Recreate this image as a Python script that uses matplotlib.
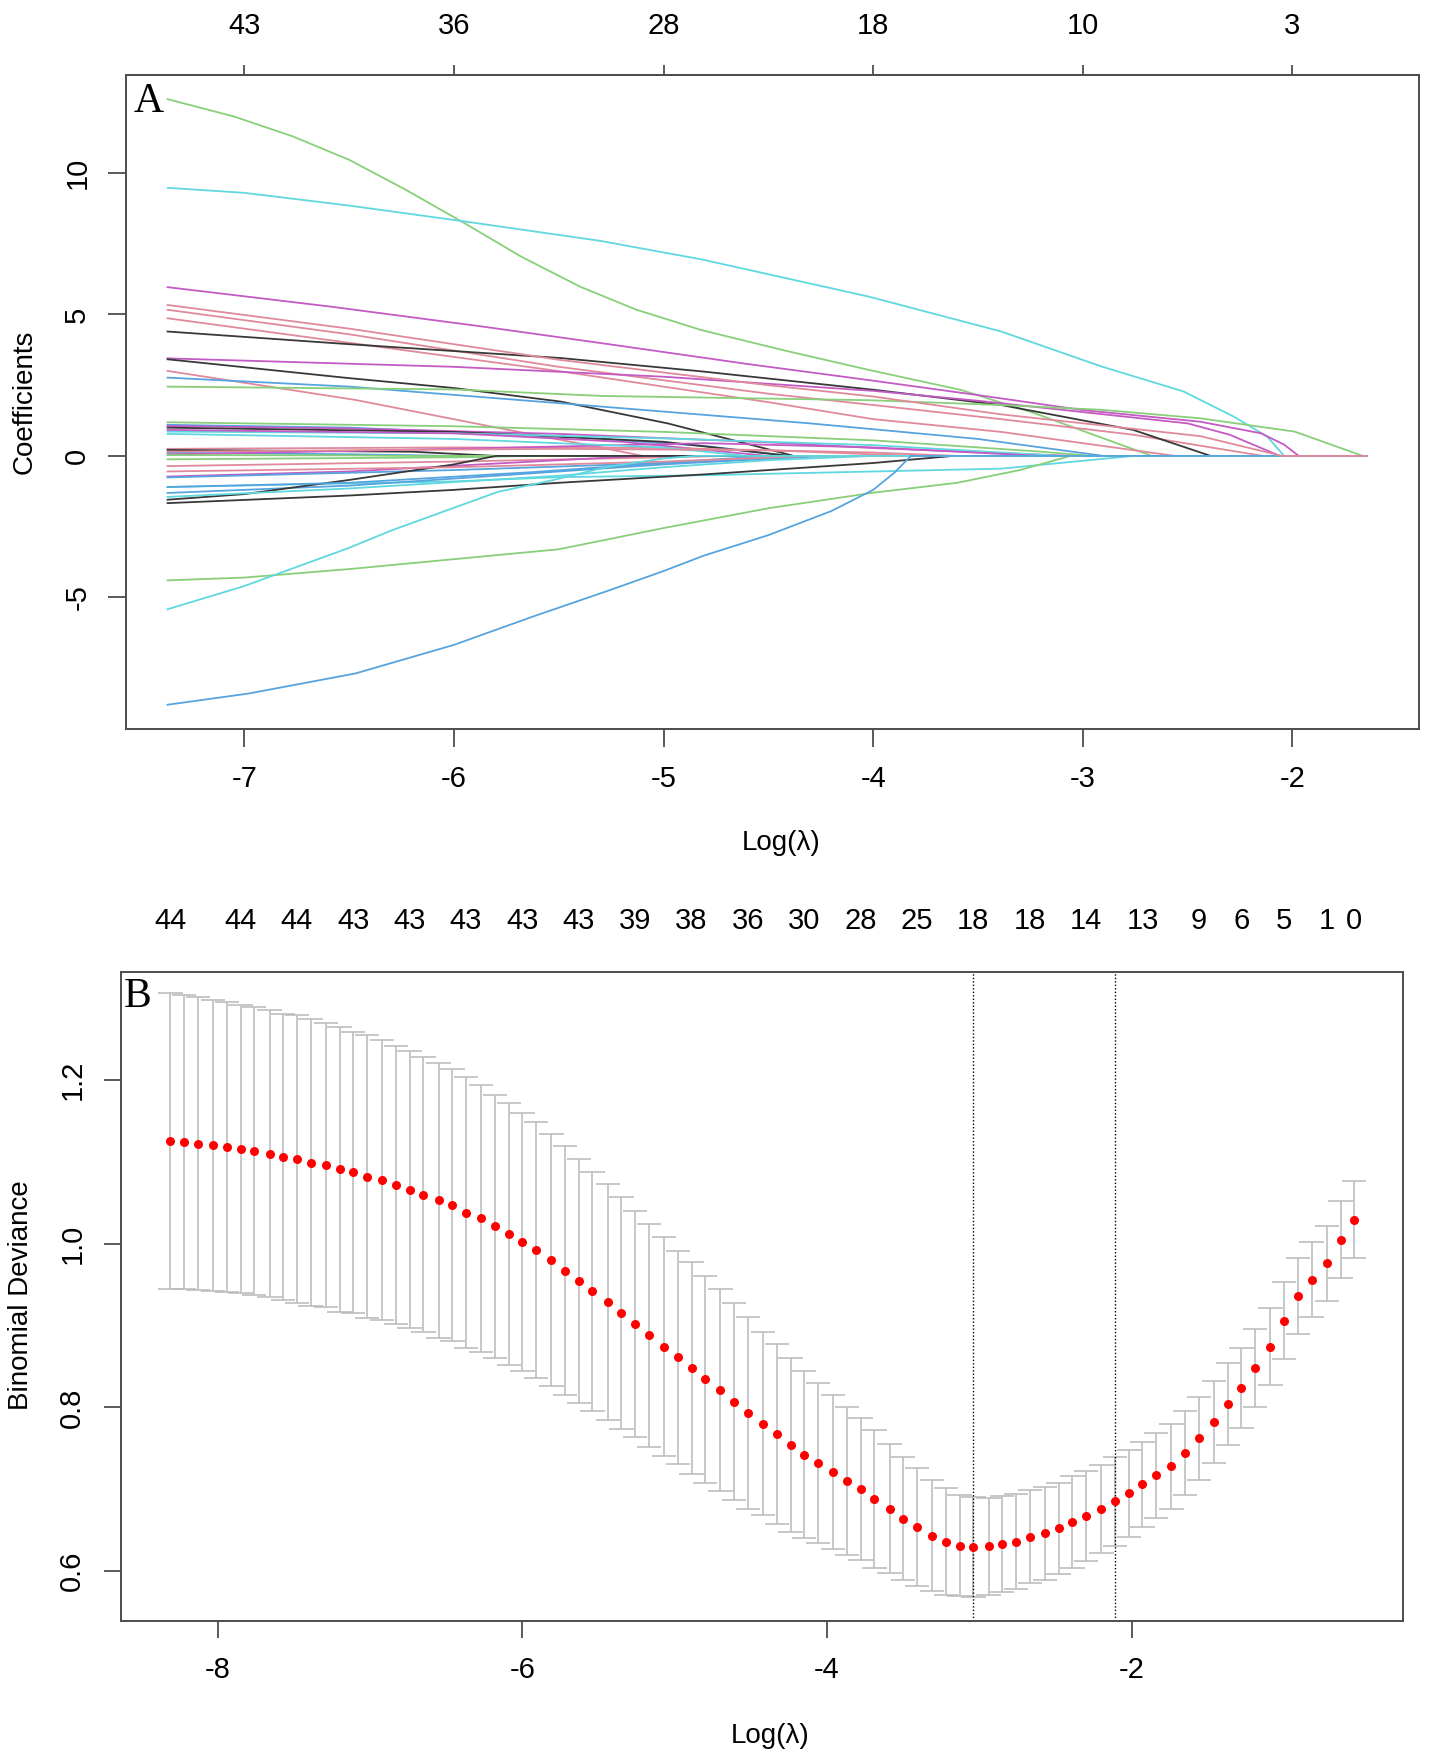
import matplotlib
matplotlib.use("Agg")
import matplotlib.pyplot as plt
import matplotlib.transforms as mtransforms

plt.rcParams['font.family'] = ['Liberation Sans', 'DejaVu Sans']
plt.rcParams['axes.unicode_minus'] = False

# ---------------- panel A: lasso coefficient paths ----------------
# knots (log lambda, coefficient); every path sits on 0 after its last knot
path_green_big = [(-7.37, 12.62), (-7.05, 12.0), (-6.77, 11.3), (-6.5, 10.47), (-6.23, 9.41),
                  (-5.95, 8.23), (-5.68, 7.05), (-5.4, 5.99), (-5.13, 5.17), (-4.82, 4.45),
                  (-4.43, 3.74), (-4.02, 3.04), (-3.58, 2.33), (-3.23, 1.51), (-2.95, 0.75),
                  (-2.67, 0.0)]
path_cyan_top = [(-7.37, 9.48), (-7.0, 9.3), (-6.5, 8.85), (-5.95, 8.29), (-5.3, 7.6),
                 (-4.82, 6.95), (-4.02, 5.63), (-3.39, 4.40), (-2.91, 3.16), (-2.52, 2.28),
                 (-2.28, 1.39), (-2.12, 0.68), (-2.04, 0.0)]
path_purple_top = [(-7.37, 5.97), (-6.59, 5.28), (-5.86, 4.57), (-5.29, 3.98), (-4.6, 3.25),
                   (-4.02, 2.68), (-3.5, 2.15), (-3.0, 1.62), (-2.44, 1.21), (-2.15, 0.8),
                   (-2.04, 0.4), (-1.97, 0.0)]
path_pink_a = [(-7.37, 5.34), (-6.5, 4.5), (-5.5, 3.4), (-4.5, 2.5), (-4.0, 2.1), (-3.39, 1.47),
               (-2.44, 0.7), (-2.05, 0.0)]
path_pink_b = [(-7.37, 5.17), (-6.5, 4.3), (-5.5, 3.15), (-4.5, 2.2), (-4.0, 1.8), (-3.39, 1.30),
               (-2.76, 0.75), (-2.14, 0.0)]
path_pink_c = [(-7.37, 4.87), (-6.5, 4.0), (-5.5, 3.0), (-4.5, 1.9), (-4.0, 1.3), (-3.39, 0.85),
               (-2.56, 0.0)]
path_black_up = [(-7.37, 4.40), (-6.5, 3.95), (-5.49, 3.46), (-4.82, 2.99), (-4.0, 2.34),
                 (-3.39, 1.80), (-2.76, 0.92), (-2.39, 0.0)]
path_purple_2 = [(-7.37, 3.45), (-6.0, 3.15), (-5.0, 2.8), (-4.0, 2.3), (-3.5, 1.95),
                 (-3.0, 1.55), (-2.5, 1.15), (-2.3, 0.75), (-2.06, 0.0)]
path_black_low = [(-7.37, 3.42), (-6.5, 2.75), (-6.0, 2.4), (-5.49, 1.92), (-4.98, 1.15),
                  (-4.43, 0.1), (-4.38, 0.0)]
path_pink_steep = [(-7.37, 3.01), (-6.47, 1.98), (-5.74, 0.92), (-5.3, 0.3), (-5.1, 0.0)]
path_blue_steel = [(-7.37, 2.77), (-6.5, 2.45), (-5.49, 1.86), (-4.3, 1.15), (-3.5, 0.6),
                   (-3.1, 0.2), (-2.9, 0.0)]
path_green_long = [(-7.37, 2.45), (-6.0, 2.35), (-5.29, 2.12), (-4.02, 1.97), (-3.39, 1.80),
                   (-2.91, 1.63), (-2.44, 1.33), (-1.99, 0.86), (-1.664, 0.0)]
path_pos1 = [(-7.37, 1.19), (-6.0, 1.05), (-5.0, 0.85), (-4.0, 0.55), (-3.2, 0.15), (-2.95, 0.0)]
path_pos2 = [(-7.37, 1.10), (-6.5, 1.0), (-5.5, 0.7), (-4.8, 0.35), (-4.4, 0.0)]
path_pos3 = [(-7.37, 1.06), (-6.5, 0.97), (-5.5, 0.78), (-4.5, 0.48), (-4.0, 0.28), (-3.05, 0.0)]
path_pos4 = [(-7.37, 1.0), (-6.0, 0.85), (-5.0, 0.5), (-4.4, 0.0)]
path_pos5 = [(-7.37, 0.86), (-6.0, 0.8), (-5.0, 0.62), (-4.0, 0.38), (-3.1, 0.0)]
path_pos6 = [(-7.37, 0.92), (-6.0, 0.8), (-5.2, 0.5), (-4.5, 0.0)]
path_pos7 = [(-7.37, 0.25), (-6.0, 0.3), (-5.0, 0.28), (-4.0, 0.12), (-3.6, 0.0)]
path_pos8 = [(-7.37, 0.21), (-6.2, 0.15), (-5.8, 0.0)]
path_pos9 = [(-7.37, 0.11), (-6.5, 0.06), (-6.0, 0.0)]
path_pos10 = [(-7.37, 0.05), (-6.0, 0.25), (-4.8, 0.45), (-4.0, 0.3), (-3.2, 0.0)]
path_pos11 = [(-7.37, 0.03), (-6.5, 0.02), (-6.2, 0.0)]
path_pos12 = [(-7.37, 0.78), (-6.0, 0.6), (-5.0, 0.3), (-4.6, 0.0)]
path_pos13 = [(-7.37, 0.15), (-6.5, 0.2), (-5.5, 0.25), (-4.5, 0.2), (-3.8, 0.0)]
path_neg1 = [(-7.37, -0.12), (-6.0, -0.05), (-5.6, 0.0)]
path_neg2 = [(-7.37, -0.36), (-6.0, -0.2), (-5.0, -0.05), (-4.7, 0.0)]
path_neg3 = [(-7.37, -0.73), (-6.5, -0.55), (-6.0, -0.35), (-5.5, -0.15), (-5.1, 0.0)]
path_neg4 = [(-7.37, -0.76), (-6.0, -0.5), (-5.0, -0.25), (-4.5, -0.1), (-4.2, 0.0)]
path_neg5 = [(-7.37, -1.10), (-6.0, -0.9), (-5.5, -0.75), (-4.8, -0.68), (-4.0, -0.55),
             (-3.39, -0.45), (-2.76, 0.0)]
path_neg6 = [(-7.37, -1.31), (-6.5, -1.05), (-6.0, -0.8), (-5.5, -0.55), (-5.0, -0.3),
             (-4.5, -0.1), (-4.3, 0.0)]
path_neg7 = [(-7.37, -1.55), (-7.0, -1.35), (-6.5, -0.85), (-6.0, -0.3), (-5.8, 0.0)]
path_neg8 = [(-7.37, -1.67), (-6.5, -1.4), (-6.0, -1.2), (-5.5, -0.95), (-4.8, -0.65),
             (-4.0, -0.25), (-3.62, 0.0)]
path_neg9 = [(-7.37, -1.1), (-6.5, -0.95), (-5.62, -0.57), (-4.81, -0.15), (-4.5, 0.0)]
path_neg10 = [(-7.37, -1.45), (-6.5, -1.15), (-5.5, -0.7), (-5.0, -0.4), (-4.5, -0.15), (-4.0, 0.0)]
path_neg11 = [(-7.37, -0.55), (-6.0, -0.4), (-5.0, -0.2), (-4.3, 0.0)]
path_green_low = [(-7.37, -4.4), (-7.0, -4.3), (-6.5, -4.0), (-6.0, -3.65), (-5.5, -3.3),
                  (-5.0, -2.55), (-4.5, -1.85), (-4.0, -1.3), (-3.6, -0.95), (-3.3, -0.5),
                  (-3.06, 0.0)]
path_cyan_cross = [(-7.37, -5.43), (-7.0, -4.6), (-6.5, -3.25), (-6.3, -2.64), (-5.79, -1.27),
                   (-5.53, -0.86), (-5.27, -0.39), (-5.0, -0.09), (-4.85, 0.0)]
path_blue_bottom = [(-7.37, -8.8), (-6.98, -8.40), (-6.47, -7.69), (-6.0, -6.68), (-5.62, -5.67),
                    (-5.27, -4.78), (-5.0, -4.07), (-4.81, -3.53), (-4.5, -2.8), (-4.2, -1.95),
                    (-4.0, -1.2), (-3.9, -0.6), (-3.82, 0.0)]

path_end = -1.64          # largest log(lambda) on the path
df_ticks = [-7, -6, -5, -4, -3, -2]
df_labels = ['43', '36', '28', '18', '10', '3']

# ---------------- panel B: cross-validated binomial deviance ----------------
log_lambda = [-8.31, -8.22, -8.13, -8.03, -7.94, -7.85, -7.76, -7.66, -7.57, -7.48,
              -7.39, -7.29, -7.20, -7.11, -7.02, -6.92, -6.83, -6.74, -6.65, -6.55,
              -6.46, -6.37, -6.27, -6.18, -6.09, -6.00, -5.91, -5.81, -5.72, -5.63,
              -5.54, -5.44, -5.35, -5.26, -5.17, -5.07, -4.98, -4.89, -4.80, -4.70,
              -4.61, -4.52, -4.42, -4.33, -4.24, -4.15, -4.06, -3.96, -3.87, -3.78,
              -3.69, -3.59, -3.50, -3.41, -3.31, -3.22, -3.13, -3.04, -2.94, -2.85,
              -2.76, -2.67, -2.57, -2.48, -2.39, -2.30, -2.20, -2.11, -2.02, -1.93,
              -1.84, -1.74, -1.65, -1.56, -1.46, -1.37, -1.28, -1.19, -1.09, -1.00,
              -0.91, -0.82, -0.72, -0.63, -0.54]
cv_mean = [1.125, 1.124, 1.122, 1.120, 1.118, 1.116, 1.113, 1.110, 1.106, 1.103,
           1.099, 1.096, 1.091, 1.087, 1.082, 1.078, 1.072, 1.066, 1.060, 1.053,
           1.047, 1.038, 1.031, 1.021, 1.012, 1.002, 0.992, 0.980, 0.967, 0.954,
           0.942, 0.929, 0.915, 0.902, 0.888, 0.874, 0.861, 0.848, 0.834, 0.821,
           0.807, 0.793, 0.780, 0.767, 0.754, 0.742, 0.732, 0.721, 0.710, 0.700,
           0.688, 0.676, 0.664, 0.654, 0.643, 0.636, 0.631, 0.629, 0.630, 0.633,
           0.636, 0.642, 0.646, 0.652, 0.660, 0.667, 0.676, 0.685, 0.695, 0.706,
           0.717, 0.728, 0.744, 0.762, 0.782, 0.804, 0.824, 0.848, 0.874, 0.906,
           0.936, 0.956, 0.976, 1.005, 1.029]
cv_sd = [0.181, 0.180, 0.179, 0.178, 0.177, 0.176, 0.176, 0.175, 0.175, 0.176,
         0.175, 0.174, 0.174, 0.172, 0.173, 0.171, 0.170, 0.169, 0.168, 0.168,
         0.166, 0.165, 0.163, 0.161, 0.160, 0.158, 0.156, 0.154, 0.152, 0.149,
         0.146, 0.144, 0.142, 0.138, 0.136, 0.134, 0.130, 0.129, 0.126, 0.123,
         0.120, 0.117, 0.112, 0.110, 0.106, 0.102, 0.098, 0.094, 0.090, 0.087,
         0.084, 0.079, 0.075, 0.072, 0.068, 0.065, 0.062, 0.061, 0.059, 0.059,
         0.058, 0.057, 0.057, 0.056, 0.056, 0.055, 0.054, 0.054, 0.053, 0.052,
         0.052, 0.052, 0.051, 0.051, 0.050, 0.050, 0.049, 0.048, 0.047, 0.047,
         0.046, 0.046, 0.046, 0.047, 0.047]
idx_min = 57
idx_1se = 67
nz_index = [0, 5, 9, 13, 17, 21, 25, 29, 33, 37, 41, 45, 49, 53, 57, 61, 65, 69, 73, 76, 79, 82, 84]
nz_labels = ['44', '44', '44', '43', '43', '43', '43', '43', '39', '38', '36', '30',
             '28', '25', '18', '18', '14', '13', '9', '6', '5', '1', '0']

# ---------------- styling ----------------
BLACK = '#383838'
PINK = '#e0899b'
GREEN = '#88cf7a'
BLUE = '#56a4df'
CYAN = '#5fd8df'
MAGENTA = '#c45ac4'
SPINE = '#4d4d4d'

coef_paths = [
    (path_green_big, GREEN), (path_cyan_top, CYAN), (path_purple_top, MAGENTA),
    (path_pink_b, PINK), (path_pink_c, PINK),
    (path_black_up, BLACK), (path_purple_2, MAGENTA), (path_black_low, BLACK),
    (path_pink_steep, PINK), (path_blue_steel, BLUE), (path_green_long, GREEN),
    (path_pos1, GREEN), (path_pos2, BLUE), (path_pos3, MAGENTA), (path_pos4, BLACK),
    (path_pos5, CYAN), (path_pos6, MAGENTA), (path_pos7, PINK), (path_pos8, BLACK),
    (path_pos9, BLUE), (path_pos10, MAGENTA), (path_pos11, GREEN), (path_pos12, CYAN),
    (path_pos13, PINK), (path_neg1, GREEN), (path_neg2, PINK), (path_neg3, MAGENTA),
    (path_neg4, BLUE), (path_neg5, CYAN), (path_neg6, BLUE), (path_neg7, BLACK),
    (path_neg8, BLACK), (path_neg9, BLUE), (path_neg10, CYAN), (path_neg11, PINK),
    (path_green_low, GREEN), (path_cyan_cross, CYAN), (path_blue_bottom, BLUE),
    (path_pink_a, PINK),
]


def style_axes(ax, tick_len, xpad, ypad):
    for sp in ax.spines.values():
        sp.set_color(SPINE)
        sp.set_linewidth(1.4)
    ax.tick_params(direction='out', length=tick_len, width=1.3, color=SPINE,
                   labelsize=21, labelcolor='black')
    ax.tick_params(axis='x', pad=xpad)
    ax.tick_params(axis='y', pad=ypad)
    for lab in ax.get_yticklabels():
        lab.set_rotation(90)
        lab.set_va('center')


fig = plt.figure(figsize=(14.3, 17.6), dpi=100)

# ---- panel A ----
ax_a = fig.add_axes([0.0881, 0.586, 0.904, 0.3713])
for path, col in coef_paths:
    xs = [p[0] for p in path] + [path_end]
    ys = [p[1] for p in path] + [0.0]
    ax_a.plot(xs, ys, color=col, lw=1.3, solid_capstyle='butt')
ax_a.set_xlim(-7.564, -1.398)
ax_a.set_ylim(-9.64, 13.46)
ax_a.set_xticks(df_ticks)
ax_a.set_yticks([-5, 0, 5, 10])
style_axes(ax_a, 13, 13, 12)
ax_a.set_ylabel('Coefficients', fontsize=20)
ax_a.yaxis.set_label_coords(-0.068, 0.5)
ax_a.set_xlabel('Log(λ)', fontsize=20)
ax_a.xaxis.set_label_coords(0.507, -0.155)
top = ax_a.secondary_xaxis('top')
top.set_xticks(df_ticks, labels=df_labels)
top.tick_params(direction='out', length=7, width=1.3, color=SPINE, labelsize=21, pad=18)
top.spines['top'].set_color(SPINE)
top.spines['top'].set_linewidth(1.4)
ax_a.text(0.006, 0.9434, 'A', transform=ax_a.transAxes, fontsize=30,
          family=['Liberation Serif', 'DejaVu Serif'], ha='left', va='baseline')

# ---- panel B ----
ax_b = fig.add_axes([0.0846, 0.079, 0.8965, 0.3688])
upper = [m + s for m, s in zip(cv_mean, cv_sd)]
lower = [m - s for m, s in zip(cv_mean, cv_sd)]
barw = 0.08
ax_b.vlines(log_lambda, lower, upper, colors='#bdbdbd', lw=1.2, zorder=1)
ax_b.hlines(upper, [x - barw for x in log_lambda], [x + barw for x in log_lambda],
            colors='#bdbdbd', lw=1.2, zorder=1)
ax_b.hlines(lower, [x - barw for x in log_lambda], [x + barw for x in log_lambda],
            colors='#bdbdbd', lw=1.2, zorder=1)
ax_b.plot(log_lambda, cv_mean, 'o', color='#ff0000', ms=6.5, mec='none', zorder=3)
for i in (idx_min, idx_1se):
    ax_b.axvline(log_lambda[i], color='black', ls=(0, (1, 1.5)), lw=1.0, zorder=2)
ax_b.set_xlim(-8.635, -0.22)
ax_b.set_ylim(0.539, 1.332)
ax_b.set_xticks([-8, -6, -4, -2])
ax_b.set_yticks([0.6, 0.8, 1.0, 1.2])
ax_b.set_yticklabels(['0.6', '0.8', '1.0', '1.2'])
style_axes(ax_b, 12, 13, 13)
ax_b.set_ylabel('Binomial Deviance', fontsize=20)
ax_b.yaxis.set_label_coords(-0.0676, 0.502)
ax_b.set_xlabel('Log(λ)', fontsize=20)
ax_b.xaxis.set_label_coords(0.506, -0.157)
trans = mtransforms.blended_transform_factory(ax_b.transData, ax_b.transAxes)
for i, lab in zip(nz_index, nz_labels):
    ax_b.text(log_lambda[i], 1.0786, lab, transform=trans, ha='center', va='center',
              fontsize=21)
ax_b.text(0.002, 0.946, 'B', transform=ax_b.transAxes, fontsize=30,
          family=['Liberation Serif', 'DejaVu Serif'], ha='left', va='baseline')

fig.savefig('out.png', dpi=100)
